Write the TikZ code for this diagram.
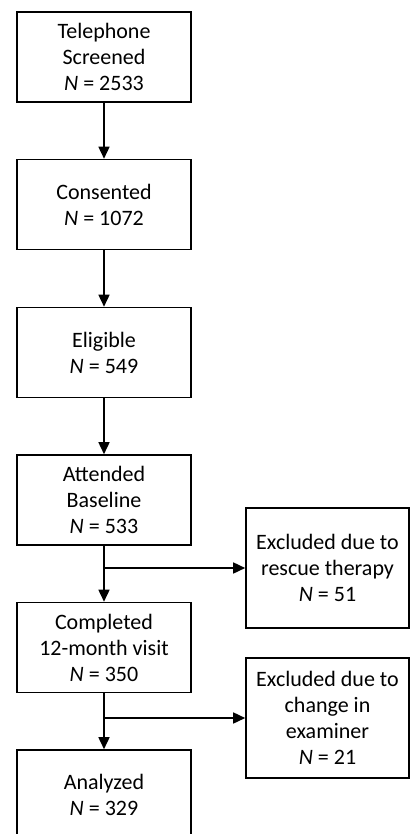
\documentclass[tikz,border=0pt]{standalone}
\usepackage{fontspec}
\setmainfont{Carlito}
\usetikzlibrary{arrows.meta}
\begin{document}
\begin{tikzpicture}[x=1pt,y=-1pt,
  box/.style={draw,line width=1.6pt,align=center,inner sep=0pt,
    font=\fontsize{22}{26}\selectfont},
  mainbox/.style={box,minimum width=174pt,minimum height=90pt},
  sidebox/.style={box,minimum width=163pt,minimum height=120pt},
  arr/.style={line width=1.6pt,-{Triangle[length=12pt,width=11pt]}}]
\useasboundingbox (0,0) rectangle (410,834);
\clip (0,0) rectangle (410,834);
\node[mainbox] (b1) at (104,57) {Telephone\\Screened\\\textit{N} = 2533};
\node[mainbox] (b2) at (104,204.5) {Consented\\\textit{N} = 1072};
\node[mainbox] (b3) at (104,352.5) {Eligible\\\textit{N} = 549};
\node[mainbox] (b4) at (104,500) {Attended\\Baseline\\\textit{N} = 533};
\node[mainbox] (b5) at (104,647.5) {Completed\\12-month visit\\\textit{N} = 350};
\node[mainbox] (b6) at (104,795) {Analyzed\\\textit{N} = 329};
\node[sidebox] (r1) at (327.5,568) {Excluded due to\\rescue therapy\\\textit{N} = 51};
\node[sidebox] (r2) at (327.5,718) {Excluded due to\\change in\\examiner\\\textit{N} = 21};
\draw[arr] (b1) -- (b2);
\draw[arr] (b2) -- (b3);
\draw[arr] (b3) -- (b4);
\draw[arr] (b4) -- (b5);
\draw[arr] (b5) -- (b6);
\coordinate (j1) at (b4.south |- r1.west);
\coordinate (j2) at (b5.south |- r2.west);
\draw[arr] (j1) -- (r1.west);
\draw[arr] (j2) -- (r2.west);
\end{tikzpicture}
\end{document}
